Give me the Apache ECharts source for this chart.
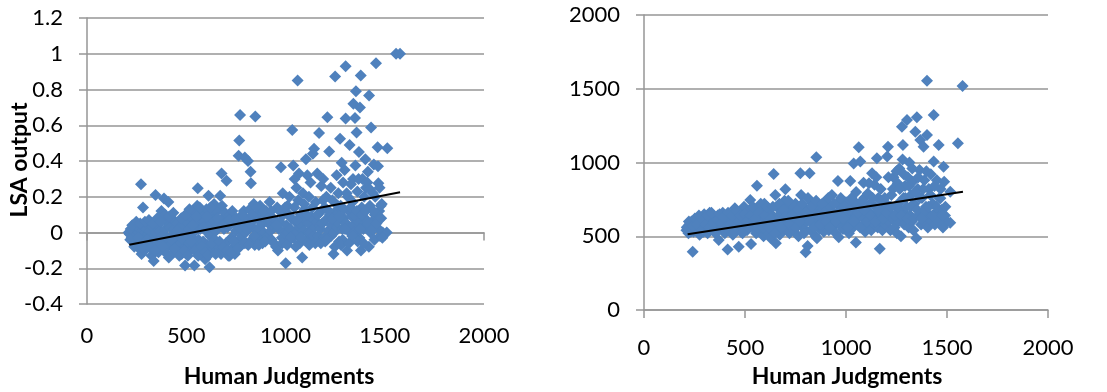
<!DOCTYPE html>
<html>
<head>
<meta charset="utf-8">
<script src="https://cdn.jsdelivr.net/npm/echarts@6/dist/echarts.min.js"></script>
<style>
html,body{margin:0;padding:0;background:#fff;}
#c{width:1107px;height:392px;}
</style>
</head>
<body>
<div id="c"></div>
<script>
// ---- Left panel: LSA output vs Human Judgments ----
var lsaPoints = [
[210,0],[215,-0.01],[220,0.02],[225,-0.03],[230,0.01],[235,-0.05],[240,0.03],[245,-0.02],[250,0.04],[255,-0.07],[260,0.0],[262,-0.09],[265,0.02],[270,-0.04],[272,0.27],[275,-0.12],[278,0.01],[282,0.14],[285,-0.06],[288,0.03],[290,-0.1],[295,0.0],[298,-0.03],
[300,0.02],[305,-0.08],[310,-0.01],[315,0.01],[320,-0.05],[325,-0.13],[330,0.03],[336,-0.16],[340,-0.02],[345,0.21],[348,0.0],[352,-0.07],[356,0.04],[360,-0.11],[365,0.01],[370,-0.04],[375,0.12],[378,-0.02],[382,0.1],[388,0.19],[390,-0.06],[395,0.02],[398,-0.09],
[400,0.06],[405,-0.03],[410,0.17],[412,-0.14],[418,0.03],[422,-0.07],[428,0.08],[432,-0.01],[438,-0.11],[442,0.02],[448,-0.05],[452,0.05],[458,-0.09],[462,-0.02],[468,0.03],[472,-0.06],[477,-0.12],[480,0.0],[485,-0.04],[490,0.04],[494,-0.185],[498,-0.08],
[502,0.06],[506,-0.02],[510,0.1],[514,-0.06],[518,0.02],[522,-0.1],[526,0.08],[530,-0.03],[535,0.12],[538,0.0],[541,-0.185],[545,0.05],[550,-0.08],[555,0.15],[558,0.248],[562,-0.04],[566,0.09],[570,0.02],[575,-0.12],[580,0.11],[585,-0.05],[590,0.06],[595,-0.15],[598,0.01],
[602,0.13],[606,-0.07],[612,0.205],[615,0.04],[617,-0.194],[620,-0.02],[625,0.1],[630,-0.1],[635,0.07],[640,0.16],[645,-0.04],[650,0.01],[655,0.12],[660,-0.08],[665,0.05],[671,0.205],[675,-0.12],[678,0.33],[682,0.08],[685,-0.1],[690,0.02],[695,0.11],[700,-0.06],[703,0.29],
[708,0.03],[712,-0.13],[719,-0.13],[722,0.1],[728,-0.03],[735,0.06],[740,-0.08],[745,-0.12],[750,0.01],[755,0.04],[760,-0.05],[764,0.43],[767,0.515],[771,0.658],[775,0.09],[780,-0.02],[785,0.05],[790,0.12],[795,0.42],[798,0.0],
[802,-0.06],[806,0.07],[811,0.4],[815,0.02],[820,0.13],[824,0.34],[826,0.275],[830,-0.04],[835,0.03],[840,0.16],[845,-0.07],[848,0.649],[852,0.08],[858,0.01],[862,0.11],[868,-0.03],[872,0.15],[878,0.04],[884,-0.06],[890,0.0],[895,0.09],
[902,0.12],[908,-0.02],[915,0.05],[920,0.17],[925,0.01],[930,-0.04],[938,0.08],[945,0.03],[952,-0.08],[958,0.14],[962,-0.1],[966,0.02],[972,0.06],[977,0.365],[982,-0.03],[986,0.22],[990,0.1],[995,0.0],[1001,-0.172],
[1005,0.04],[1010,0.15],[1012,0.0],[1015,-0.05],[1020,0.2],[1025,0.02],[1030,0.08],[1034,0.574],[1036,-0.02],[1039,0.375],[1042,-0.03],[1046,0.3],[1050,0.06],[1055,0.25],[1058,0.0],[1061,0.85],[1064,0.18],[1068,0.33],[1070,0.03],[1072,-0.06],[1076,0.1],[1080,0.04],[1084,-0.14],[1088,0.22],[1092,0.01],[1096,0.13],[1100,0.07],
[1103,0.41],[1106,-0.04],[1110,0.32],[1112,0.0],[1114,0.05],[1118,0.2],[1122,0.0],[1126,0.28],[1130,0.09],[1134,-0.05],[1138,0.44],[1140,-0.02],[1144,0.468],[1148,0.03],[1152,0.17],[1156,0.06],[1160,0.33],[1164,-0.02],[1169,0.556],[1172,0.11],[1174,0.04],[1176,0.02],[1180,0.26],[1185,0.05],[1190,0.3],[1194,-0.03],[1198,0.14],
[1200,-0.05],[1202,0.07],[1206,0.2],[1211,0.645],[1215,0.01],[1220,0.453],[1224,0.1],[1228,0.25],[1230,-0.02],[1232,0.04],[1236,0.18],[1242,-0.12],[1246,0.0],[1250,0.873],[1254,0.12],[1258,0.32],[1260,0.03],[1262,0.06],[1266,0.22],[1270,-0.05],[1275,0.524],[1278,0.15],[1283,0.39],[1286,0.02],[1288,-0.04],[1290,0.28],[1294,0.08],[1298,0.35],[1303,0.93],
[1303,0.638],[1306,0.05],[1310,-0.1],[1314,0.2],[1316,0.01],[1318,0.12],[1323,0.49],[1326,0.03],[1330,0.27],[1334,0.09],[1338,0.17],[1342,0.72],[1344,0.04],[1346,0.0],[1350,0.64],[1352,0.375],[1355,0.79],[1358,0.56],[1362,0.23],[1366,0.06],[1370,0.45],[1372,-0.03],[1375,0.7],[1379,0.878],[1380,-0.1],[1384,0.14],[1388,0.3],[1392,0.02],[1396,0.2],[1398,0.05],[1400,0.08],
[1402,0.41],[1406,0.25],[1410,0.04],[1415,0.34],[1420,-0.08],[1421,0.766],[1425,0.15],[1428,0.0],[1431,0.587],[1435,0.06],[1440,0.22],[1445,0.38],[1448,-0.04],[1450,0.1],[1456,0.947],[1460,0.03],[1464,0.477],[1466,0.37],[1468,0.275],[1470,0.07],[1472,0.12],[1476,-0.02],[1480,0.15],[1485,0.16],[1490,0.0],[1510,0.0],[1513,0.472],[1557,1.0],[1577,1.0],
[218,-0.04],[228,0.04],[238,-0.08],[248,0.06],[258,-0.03],[268,0.05],[280,-0.08],[292,0.06],[303,-0.04],[312,0.07],[322,-0.09],[332,0.05],[342,-0.1],[354,0.08],[362,-0.05],[372,0.06],[384,-0.08],[394,0.1],[403,-0.12],[414,0.09],[425,-0.04],[435,0.11],[445,-0.09],[455,0.01],[465,-0.13],[475,0.08],[487,-0.1],[496,0.1],
[508,-0.13],[516,0.13],[524,-0.05],[532,0.04],[543,-0.1],[552,0.09],[560,-0.13],[568,0.14],[578,-0.08],[588,0.03],[596,-0.11],[604,0.09],[610,-0.13],[622,0.14],[628,-0.06],[638,0.02],[648,-0.12],[658,0.08],[668,-0.05],[680,0.15],[688,-0.08],[698,0.05],
[706,-0.1],[716,0.07],[726,-0.11],[732,0.12],[742,-0.05],[752,0.08],[762,-0.09],[772,0.03],[782,0.1],[792,-0.06],[804,0.02],[812,-0.07],[822,0.05],[832,0.1],[842,-0.02],[856,0.14],[866,-0.07],[876,0.06],[888,0.12],[898,-0.05],[912,0.08],[928,0.12],[942,-0.06],[956,0.04],[970,0.12],[984,-0.06],[998,0.14],
[1008,-0.07],[1018,0.1],[1028,-0.03],[1044,0.14],[1052,-0.08],[1062,0.07],[1078,-0.03],[1094,0.16],[1108,0.1],[1120,-0.07],[1136,0.14],[1150,-0.06],[1162,0.1],[1178,-0.06],[1188,0.18],[1208,-0.04],[1218,0.12],[1234,0.08],[1248,-0.08],[1264,0.15],[1272,0.09],[1280,-0.07],[1292,0.13],[1300,0.02],
[1308,0.22],[1320,-0.06],[1328,0.14],[1336,-0.02],[1340,0.3],[1348,0.1],[1360,0.12],[1364,-0.05],[1368,0.3],[1376,0.02],[1386,0.1],[1394,-0.06],[1404,0.12],[1412,0.28],[1418,0.05],[1426,0.24],[1438,0.02],[1442,0.12],[1452,0.2],[1458,0.05],[1474,0.25],[1482,0.08],[1488,-0.03]
];
var lsaTrend = [[213,-0.069],[1577,0.225]];

// ---- Right panel ----
var rightPoints = [
[210,540],[215,565],[220,520],[225,580],[230,555],[235,600],[241,395],[245,530],[250,590],[255,560],[260,610],[265,545],[270,575],[275,510],[280,620],[285,560],[290,590],[295,530],[298,650],
[302,600],[306,560],[310,630],[315,520],[320,585],[325,660],[330,545],[335,610],[340,575],[345,630],[350,540],[355,600],[360,560],[365,640],[370,475],[375,590],[380,615],[385,550],[390,660],[395,580],
[400,520],[405,625],[410,570],[414,411],[418,600],[422,650],[426,540],[430,590],[435,620],[440,510],[445,570],[450,690],[455,600],[460,545],[465,640],[469,429],[472,580],[476,660],[480,530],[485,610],[490,560],[495,700],
[500,590],[505,630],[510,540],[515,670],[520,600],[526,746],[530,447],[535,620],[540,560],[545,690],[550,580],[555,520],[559,843],[562,640],[567,600],[572,700],[577,550],[582,660],[587,610],[592,500],[596,720],
[600,580],[605,640],[610,530],[615,680],[620,600],[625,490],[630,650],[635,570],[642,922],[646,620],[650,780],[653,452],[657,700],[662,560],[667,640],[672,510],[677,600],[682,670],[687,540],[692,620],[696,740],[700,818],
[704,590],[708,650],[712,560],[716,700],[720,520],[725,620],[730,580],[735,680],[740,540],[745,610],[750,720],[755,570],[760,640],[765,500],[770,660],[774,927],[778,780],[782,600],[786,560],[790,700],[795,630],[800,391],
[805,600],[810,434],[815,680],[820,927],[825,540],[830,620],[835,720],[840,580],[845,660],[850,500],[853,1035],[856,486],[860,600],[865,700],[870,550],[875,640],[880,590],[885,680],[890,530],[895,620],
[900,740],[905,580],[910,650],[915,540],[920,700],[925,610],[930,780],[935,560],[940,660],[945,600],[950,520],[955,720],[960,875],[964,493],[968,640],[972,580],[976,700],[980,620],[985,550],[990,670],[995,600],
[1000,730],[1005,580],[1010,640],[1015,520],[1021,875],[1025,690],[1030,600],[1035,560],[1038,994],[1042,660],[1046,620],[1049,457],[1053,720],[1058,580],[1063,1103],[1067,640],[1071,1006],[1075,700],[1080,560],[1085,620],[1087,863],[1090,760],[1095,530],[1100,680],
[1104,600],[1108,790],[1112,560],[1116,660],[1120,720],[1125,540],[1129,927],[1133,640],[1137,580],[1141,850],[1145,700],[1149,620],[1153,1028],[1157,560],[1160,760],[1164,660],[1167,416],[1171,600],[1175,740],[1180,540],[1185,680],[1190,620],[1195,580],[1200,720],
[1204,1040],[1208,1107],[1212,600],[1216,660],[1220,540],[1225,780],[1230,620],[1235,900],[1240,560],[1244,700],[1248,640],[1252,520],[1256,860],[1260,600],[1264,960],[1268,680],[1272,500],[1277,1243],[1280,1020],[1282,1119],[1285,760],[1288,580],[1292,840],[1296,650],[1300,700],
[1302,1288],[1306,900],[1310,560],[1314,1000],[1318,640],[1322,780],[1326,600],[1330,870],[1334,540],[1338,720],[1343,1209],[1348,486],[1351,1306],[1355,820],[1360,640],[1364,950],[1368,1153],[1372,580],[1376,760],[1380,660],[1384,1107],[1388,880],[1392,600],[1396,700],[1401,1187],[1401,1555],
[1405,560],[1410,820],[1415,640],[1420,920],[1425,600],[1430,720],[1434,1322],[1434,1006],[1440,580],[1445,660],[1450,880],[1455,620],[1459,1119],[1463,760],[1467,757],[1470,600],[1475,680],[1480,560],[1483,972],[1486,870],[1490,640],[1500,600],[1516,802],[1516,592],[1554,1130],[1577,1519],
[212,560],[222,600],[232,530],[242,570],[252,620],[262,580],[272,640],[282,540],[292,610],[304,580],[314,640],[324,560],[334,660],[344,590],[354,520],[364,610],[374,650],[384,590],[394,630],[404,560],[416,660],[428,580],[438,640],[448,530],[458,670],[468,600],[478,640],[488,520],[498,650],
[508,600],[518,560],[528,640],[538,700],[548,620],[558,560],[568,660],[578,720],[588,560],[598,640],[608,700],[618,560],[628,620],[638,700],[648,520],[660,600],[670,720],[680,560],[690,680],
[702,630],[714,740],[722,580],[734,640],[744,700],[752,560],[762,680],[772,600],[784,720],[792,520],[802,660],[812,760],[822,600],[832,700],[842,560],[852,740],[862,640],[872,580],[882,720],[892,660],
[902,600],[912,760],[922,560],[932,640],[942,720],[952,600],[962,660],[974,760],[984,620],[994,700],[1008,560],[1018,680],[1028,760],[1040,600],[1050,800],[1060,660],[1070,560],[1080,740],[1092,680],
[1102,600],[1114,860],[1122,640],[1132,760],[1142,600],[1150,900],[1162,680],[1172,820],[1182,620],[1192,760],[1202,660],[1210,900],[1222,700],[1232,820],[1242,640],[1250,940],[1258,720],[1266,820],[1274,640],[1286,920],[1294,760],
[1304,620],[1312,840],[1320,700],[1328,960],[1336,620],[1344,800],[1352,680],[1358,900],[1366,760],[1374,620],[1382,820],[1390,680],[1398,940],[1408,700],[1418,780],[1428,640],[1438,840],[1448,700],[1458,600],[1468,820],[1478,640],[1492,700]
];
var rightTrend = [[216,513],[1579,802]];

var xTicks = {min:0, max:2000, interval:500};
var leftYTicks = {min:-0.4, max:1.2, interval:0.2};
var rightYTicks = {min:0, max:2000, interval:500};
var xTitle = 'Human Judgments';
var leftYTitle = 'LSA output';

var FONT = 'Lato';
var GRID = '#969696';
var BLUE = '#4F81BD';

var chart = echarts.init(document.getElementById('c'), null, {renderer:'canvas'});

function fmtPlain(v){ return String(Math.round(v*10)/10); }

var labelStyle = {color:'#000', fontFamily:FONT, fontSize:22, formatter:fmtPlain};

chart.setOption({
  animation:false,
  backgroundColor:'#fff',
  grid:[
    {left:87, top:18, width:397, height:286},
    {left:644, top:15, width:404, height:295}
  ],
  xAxis:[
    {gridIndex:0, type:'value', min:xTicks.min, max:xTicks.max, interval:xTicks.interval,
     axisLine:{show:false, onZero:false}, axisTick:{show:false}, splitLine:{show:false},
     axisLabel:Object.assign({margin:21}, labelStyle)},
    {gridIndex:0, type:'value', position:'bottom', min:xTicks.min, max:xTicks.max, interval:xTicks.interval,
     axisLine:{show:true, onZero:true, lineStyle:{color:GRID, width:1.5}},
     axisTick:{show:true, length:8, lineStyle:{color:GRID, width:1.5}},
     axisLabel:{show:false}, splitLine:{show:false}},
    {gridIndex:1, type:'value', min:xTicks.min, max:xTicks.max, interval:xTicks.interval,
     axisLine:{show:true, onZero:false, lineStyle:{color:GRID, width:1.5}},
     axisTick:{show:true, length:8, lineStyle:{color:GRID, width:1.5}},
     splitLine:{show:false},
     axisLabel:Object.assign({margin:27}, labelStyle)}
  ],
  yAxis:[
    {gridIndex:0, type:'value', min:leftYTicks.min, max:leftYTicks.max, interval:leftYTicks.interval,
     axisLine:{show:true, lineStyle:{color:GRID, width:1.5}},
     axisTick:{show:true, length:8, lineStyle:{color:GRID, width:1.5}},
     splitLine:{show:true, lineStyle:{color:GRID, width:1.5}},
     axisLabel:Object.assign({margin:24}, labelStyle)},
    {gridIndex:1, type:'value', min:rightYTicks.min, max:rightYTicks.max, interval:rightYTicks.interval,
     axisLine:{show:true, lineStyle:{color:GRID, width:1.5}},
     axisTick:{show:true, length:8, lineStyle:{color:GRID, width:1.5}},
     splitLine:{show:true, lineStyle:{color:GRID, width:1.5}},
     axisLabel:Object.assign({margin:24}, labelStyle)}
  ],
  graphic:[
    {type:'text', style:{text:xTitle, font:'bold 23px '+FONT, fill:'#000', align:'center', verticalAlign:'middle', x:279, y:377}},
    {type:'text', style:{text:xTitle, font:'bold 23px '+FONT, fill:'#000', align:'center', verticalAlign:'middle', x:847, y:377}},
    {type:'text', x:20, y:160, rotation:Math.PI/2, style:{text:leftYTitle, font:'bold 23px '+FONT, fill:'#000', align:'center', verticalAlign:'middle', x:0, y:0}}
  ],
  series:[
    {type:'scatter', xAxisIndex:0, yAxisIndex:0, data:lsaPoints, symbol:'diamond', symbolSize:12,
     itemStyle:{color:BLUE, opacity:1}, z:2},
    {type:'line', xAxisIndex:0, yAxisIndex:0, data:lsaTrend, symbol:'none', lineStyle:{color:'#000', width:2}, z:3},
    {type:'scatter', xAxisIndex:2, yAxisIndex:1, data:rightPoints, symbol:'diamond', symbolSize:12,
     itemStyle:{color:BLUE, opacity:1}, z:2},
    {type:'line', xAxisIndex:2, yAxisIndex:1, data:rightTrend, symbol:'none', lineStyle:{color:'#000', width:2}, z:3}
  ]
});
</script>
</body>
</html>
